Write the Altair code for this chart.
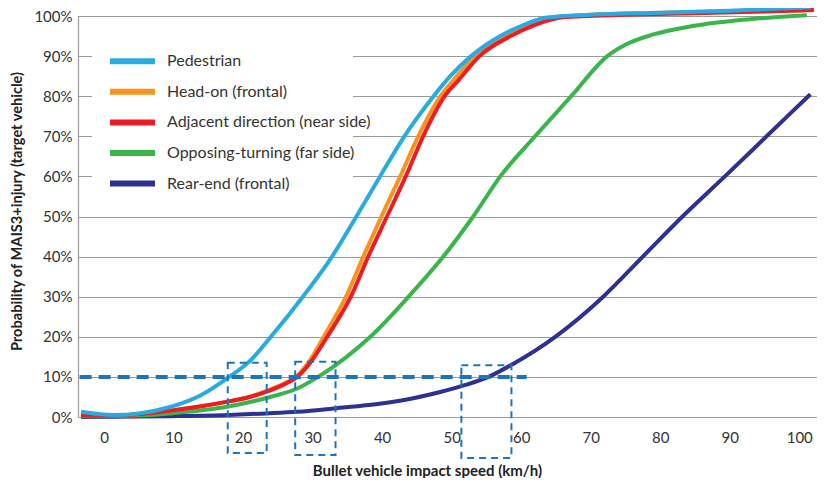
import altair as alt
import pandas as pd

series_names = ["Pedestrian", "Head-on (frontal)", "Adjacent direction (near side)",
                "Opposing-turning (far side)", "Rear-end (frontal)"]
series_colors = ["#29abe2", "#f7941d", "#ed1c24", "#39b54a", "#2e3192"]

ped_x = [-3.3, -1, 1.5, 5, 9.5, 14, 18, 21, 24, 28.6, 32.8, 36.3, 39.7, 43.2, 47.4,
         49.8, 52.8, 57, 60, 63.7, 70, 80, 90, 101.6]
ped_y = [1.3, 0.8, 0.5, 0.9, 2.5, 5.5, 10, 14, 20, 30, 40, 50, 60, 70, 80,
         85, 90, 95, 97.5, 99.6, 100.3, 100.8, 101.3, 102.2]

head_x = [-3.3, 0, 5, 10, 14, 18, 21, 23.5, 26, 27.6, 29.4, 31.6, 34.8, 37.3, 39.9, 42.6,
          45.2, 48.4, 50.5, 53.5, 57.5, 60.5, 64, 70, 80, 90, 101.6]
head_y = [0.4, 0.3, 0.7, 1.7, 2.7, 3.9, 5.1, 6.6, 8.4, 10, 13.6, 20, 30, 40, 50, 60,
          70, 80, 84.5, 90, 95, 97.5, 99.5, 100.3, 100.8, 101.2, 101.8]

adj_x = [-3.3, 0, 5, 10, 14, 18, 21, 23.5, 26, 27.8, 29.6, 32.1, 35.5, 38.0, 40.7, 43.4,
         45.9, 49.0, 51, 54.0, 58.5, 62, 66, 75, 85, 95, 102.1]
adj_y = [0.4, 0.3, 0.7, 1.7, 2.7, 3.9, 5, 6.4, 8.2, 10, 13.4, 20, 30, 40, 50, 60,
         70, 80, 84, 90, 95, 97.8, 99.7, 100.3, 100.7, 101.1, 101.5]

opp_x = [-3.3, 3, 9.5, 17.9, 23.9, 27.8, 30.8, 34.9, 38.3, 43.8, 48.8, 53.1, 57.0,
         62.0, 67.2, 72.4, 75.2, 79.0, 84.7, 92.9, 101.1]
opp_y = [0.2, 0.3, 0.9, 2.6, 5, 7.1, 10, 15, 20, 30, 40, 50, 60,
         70, 80, 90, 93, 95.4, 97.5, 99.2, 100.2]

rear_x = [-3.3, 9.5, 17.9, 23.4, 27.8, 33.5, 38, 43.0, 48.5, 52, 55.3, 58.9, 64.9, 71.8,
          77.5, 83.2, 89.3, 95.3, 101.6]
rear_y = [0.0, 0.2, 0.5, 0.9, 1.3, 2.2, 3.0, 4.2, 6.3, 8, 10, 13.3, 20, 30,
          40, 50, 60, 70, 80.5]

# threshold guide
thr_x = [-3.5, 60.8]
thr_y = [10, 10]

# dashed boxes around the crossing speeds
box_x1 = [17.8, 27.5, 51.4]
box_x2 = [23.4, 33.3, 58.6]
box_y1 = [-9.0, -9.5, -10.2]
box_y2 = [13.5, 13.8, 12.9]

# white panel behind the legend (hides gridlines there)
panel_x = [-1.73, 35.8]
panel_y = [55.0, 94.5]

x_ticks = [0, 10, 20, 30, 40, 50, 60, 70, 80, 90, 100]
y_ticks = [0, 10, 20, 30, 40, 50, 60, 70, 80, 90, 100]

# drawing order (bottom -> top)
draw = [("Rear-end (frontal)", rear_x, rear_y),
        ("Opposing-turning (far side)", opp_x, opp_y),
        ("Head-on (frontal)", head_x, head_y),
        ("Adjacent direction (near side)", adj_x, adj_y),
        ("Pedestrian", ped_x, ped_y)]
rows = []
for name, xs, ys in draw:
    for i, (a, b) in enumerate(zip(xs, ys)):
        rows.append({"series": name, "speed": a, "prob": b, "idx": i})
df = pd.DataFrame(rows)

thr_df = pd.DataFrame({"speed": thr_x, "prob": thr_y})
box_df = pd.DataFrame({"x1": box_x1, "x2": box_x2, "y1": box_y1, "y2": box_y2})
panel_df = pd.DataFrame({"x1": [panel_x[0]], "x2": [panel_x[1]],
                         "y1": [panel_y[0]], "y2": [panel_y[1]]})

FONT = "Lato"
xscale = alt.Scale(domain=[-3.74, 102.55], nice=False, zero=False)
yscale = alt.Scale(domain=[0, 100], nice=False)

panel = alt.Chart(panel_df).mark_rect(fill="white", stroke=None).encode(
    x=alt.X("x1:Q", scale=xscale,
            axis=alt.Axis(values=x_ticks, grid=False, domain=False, ticks=False,
                          labelFontSize=15, labelColor="#333", labelFont=FONT,
                          labelPadding=13,
                          title="Bullet vehicle impact speed (km/h)",
                          titleFont=FONT, titleFontSize=15, titleFontWeight="bold",
                          titleColor="#222", titleX=349, titleY=58,
                          titleBaseline="alphabetic", titleAlign="center")),
    x2="x2:Q",
    y=alt.Y("y1:Q", scale=yscale,
            axis=alt.Axis(values=y_ticks, grid=True, gridColor="#9a9a9a", gridWidth=1.2,
                          domain=True, domainColor="#9a9a9a", domainWidth=1.2,
                          ticks=False, labelExpr="datum.value + '%'",
                          labelFontSize=15, labelColor="#333", labelFont=FONT,
                          labelPadding=6,
                          title="Probability of MAIS3+injury (target vehicle)",
                          titleFont=FONT, titleFontSize=14.6, titleFontWeight="bold",
                          titleColor="#222", titleX=-57, titleY=195,
                          titleBaseline="alphabetic", titleAlign="center", titleAngle=270)),
    y2="y2:Q",
)

lines = alt.Chart(df).mark_line(strokeWidth=4, interpolate="monotone").encode(
    x=alt.X("speed:Q", scale=xscale),
    y=alt.Y("prob:Q", scale=yscale),
    color=alt.Color("series:N",
                    scale=alt.Scale(domain=series_names, range=series_colors),
                    legend=alt.Legend(title=None, orient="none", legendX=14, legendY=22.7,
                                      symbolType="stroke", symbolSize=2025,
                                      symbolStrokeWidth=6, clipHeight=15, rowPadding=13.6,
                                      labelOffset=9, labelFont=FONT, labelFontSize=16,
                                      labelColor="#333", padding=15,
                                      labelLimit=400)),
    order="idx:Q",
)

thr = alt.Chart(thr_df).mark_line(strokeWidth=4, strokeDash=[12, 7], color="#1b75bc").encode(
    x=alt.X("speed:Q", scale=xscale),
    y=alt.Y("prob:Q", scale=yscale),
)

boxes = alt.Chart(box_df).mark_rect(fill="transparent", stroke="#1b75bc",
                                     strokeWidth=2, strokeDash=[7, 5]).encode(
    x=alt.X("x1:Q", scale=xscale), x2="x2:Q",
    y=alt.Y("y1:Q", scale=yscale), y2="y2:Q",
)

chart = alt.layer(panel, lines, thr, boxes).properties(
    width=739, height=401,
    padding={"left": 70, "top": 8, "right": 0, "bottom": 61},
    autosize=alt.AutoSizeParams(type="none"),
).configure_view(stroke=None).configure(font=FONT)

chart.save("out.html", embed_options={"renderer": "svg", "actions": False})
